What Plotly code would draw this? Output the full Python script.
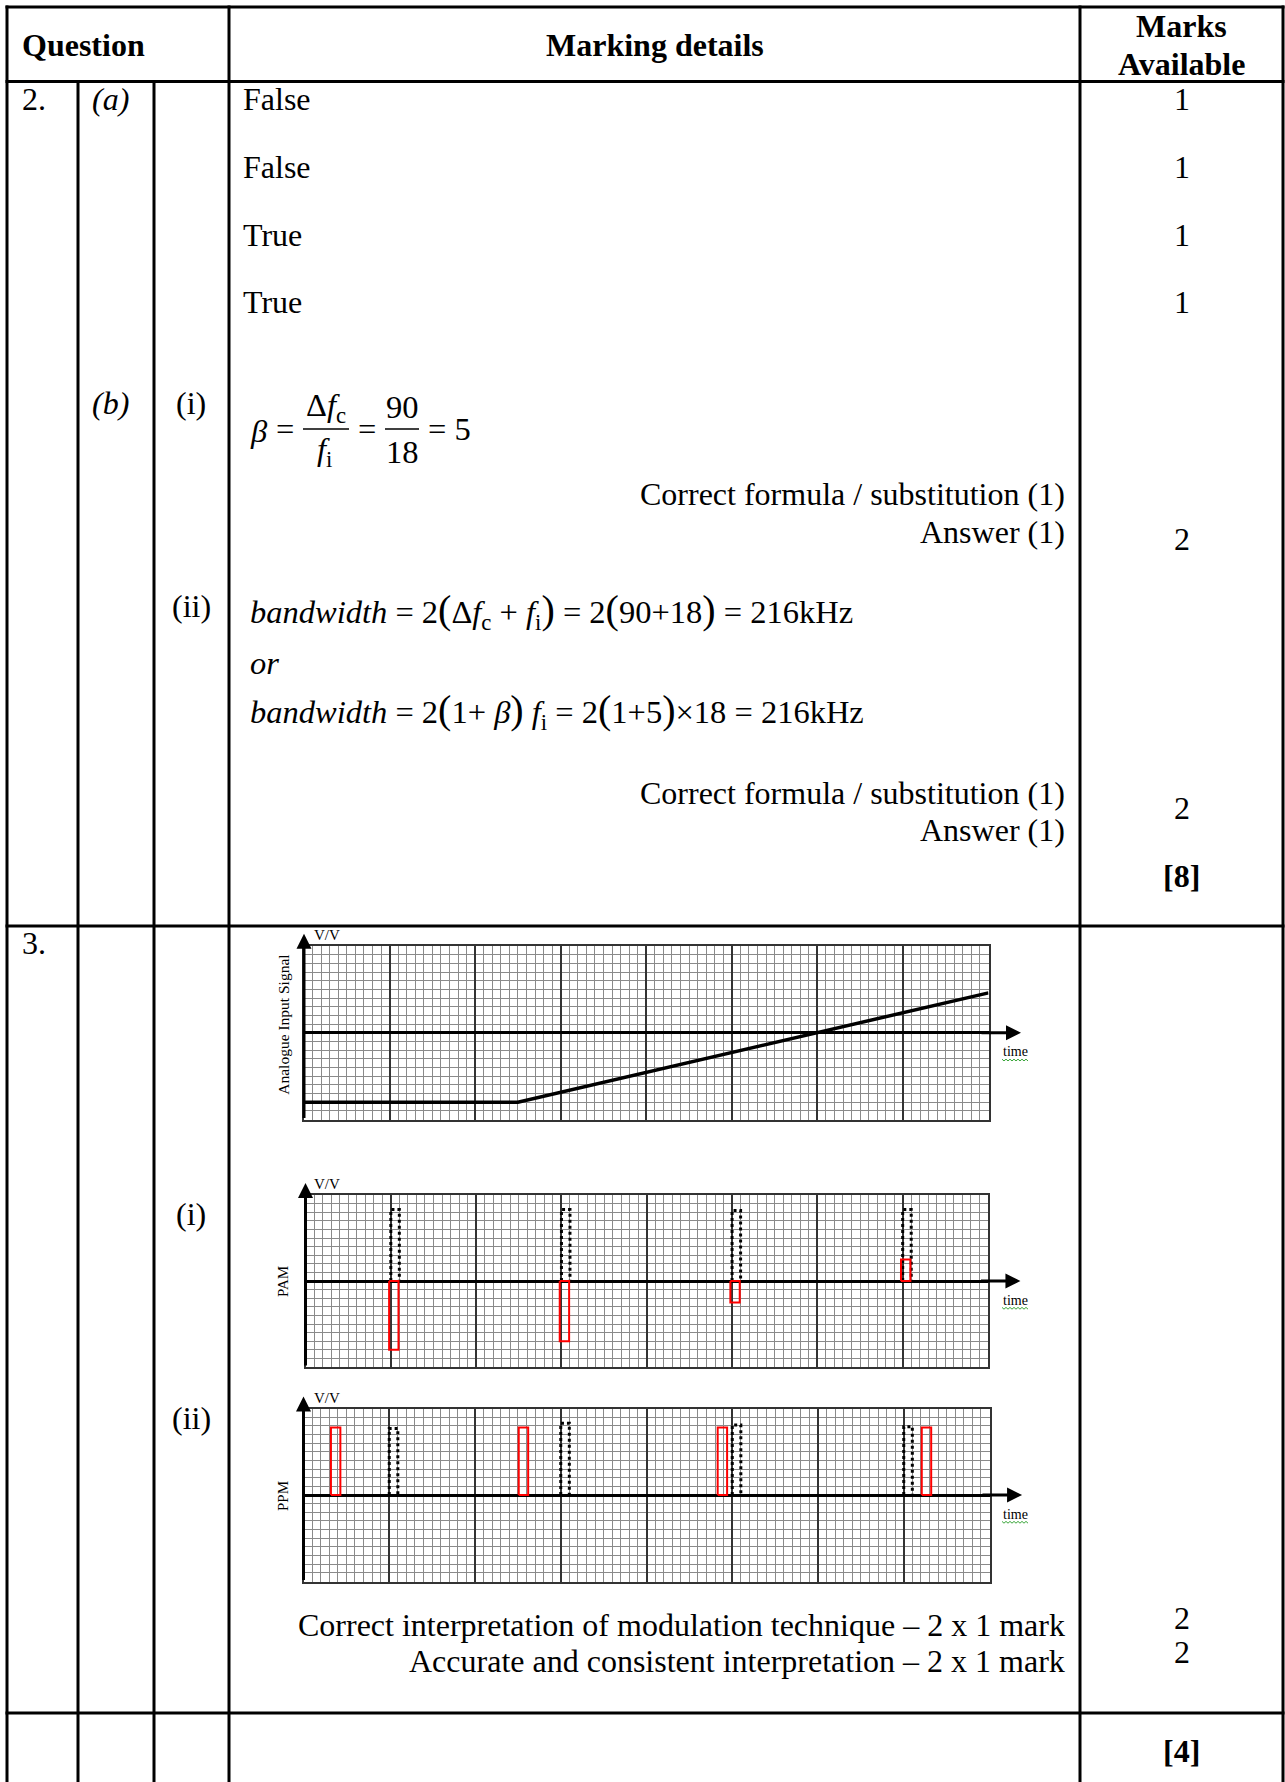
import plotly.graph_objects as go

W, H = 1285, 1782


def px(x):
    return x / W


def py(y):
    return 1 - y / H


# ---------------- data ----------------
part_a_answers = ["False", "False", "True", "True"]
part_a_marks = ["1", "1", "1", "1"]
part_b_marks = ["2", "2"]
q2_total = "[8]"
q3_marks = ["2", "2"]
q3_total = "[4]"
q3_criteria = [
    "Correct interpretation of modulation technique \u2013 2 x 1 mark",
    "Accurate and consistent interpretation \u2013 2 x 1 mark",
]
criteria_b = ["Correct formula / substitution (1)", "Answer (1)"]

# analogue input signal (time in major divisions, volts in minor divisions)
signal_t = [0, 2.5, 8]
signal_v = [-8, -8, 4.6]

# sampling instants
sample_t = [1, 3, 5, 7]
# PAM sample heights (red) and the dotted clock pulses
pam_v = [-8, -7, -2.5, 2.5]
pam_ref_h = [8.3, 8.3, 8.2, 8.3]
# PPM pulse start times (red), their heights and the dotted clock pulses
ppm_start = [0.32, 2.51, 4.83, 7.21]
ppm_h = [7.8, 7.8, 7.8, 7.8]
ppm_ref_h = [7.7, 8.3, 8.1, 7.9]

# ---------------- style constants ----------------
FONT = "Liberation Serif"
TXT = 32
FORM = 32.5
LINE_W = 3
PULSE_W = 0.11

fig = go.Figure()
shapes = []
ann = []


def text(x, y, s, anchor="left", size=TXT, **kw):
    ann.append(dict(x=px(x), y=py(y), xref="paper", yref="paper", text=s,
                    showarrow=False, xanchor=anchor, yanchor="middle",
                    font=dict(family=FONT, size=size, color="black"), **kw))


def hline(x0, x1, y, w=LINE_W):
    shapes.append(dict(type="line", xref="paper", yref="paper", x0=px(x0), x1=px(x1),
                       y0=py(y), y1=py(y), line=dict(color="black", width=w)))


def vline(x, y0, y1, w=LINE_W):
    shapes.append(dict(type="line", xref="paper", yref="paper", x0=px(x), x1=px(x),
                       y0=py(y0), y1=py(y1), line=dict(color="black", width=w)))


# ---------------- table frame ----------------
L, C1, C2, C3, C4, R = 7, 78, 154, 229, 1080, 1283
TOP, HDR, SEC, LAST, BOT = 7, 81.5, 926, 1713, 1782
for y in (TOP, HDR, SEC, LAST):
    hline(L - 1.5, R + 1.5, y)
for x in (L, C3, C4, R):
    vline(x, TOP - 1.5, BOT)
for x in (C1, C2):
    vline(x, HDR, BOT)

MX = (C4 + R) / 2
RX = 1067

# header
text(20, 45, "<b>Question</b>")
text((C3 + C4) / 2, 45, "<b>Marking details</b>", anchor="center")
text(MX, 26, "<b>Marks</b>", anchor="center")
text(MX, 64, "<b>Available</b>", anchor="center")

# question 2
text(20, 99, "2.")
text(90, 99, "<i>(a)</i>")
for yy, a, m in zip([99, 167, 235, 302], part_a_answers, part_a_marks):
    text(241, yy, a)
    text(MX, yy, m, anchor="center")

text(90, 403, "<i>(b)</i>")
text(174, 403, "(i)")

# beta = delta f_c / f_i = 90/18 = 5
text(248, 431, "<i>\u03b2</i>", size=FORM)
text(274, 429, "=", size=FORM)
text(326, 407, "\u0394<i>f</i><sub>c</sub>", anchor="center", size=FORM)
text(324, 452, "<i>f</i><sub>i</sub>", anchor="center", size=FORM)
hline(303, 349, 429, w=1.5)
text(356, 429, "=", size=FORM)
text(402, 407, "90", anchor="center", size=FORM)
text(402, 452, "18", anchor="center", size=FORM)
hline(385, 419, 429, w=1.5)
text(426, 429, "= 5", size=FORM)

text(RX, 494, criteria_b[0], anchor="right")
text(RX, 532, criteria_b[1], anchor="right")
text(MX, 539, part_b_marks[0], anchor="center")

text(170, 606, "(ii)")
P = '<span style="font-size:40px">%s</span>'
eq1 = ("<i>bandwidth</i> = 2" + P % "(" + "\u0394<i>f</i><sub>c</sub> + <i>f</i><sub>i</sub>"
       + P % ")" + " = 2" + P % "(" + "90+18" + P % ")" + " = 216kHz")
eq2 = ("<i>bandwidth</i> = 2" + P % "(" + "1+ <i>\u03b2</i>" + P % ")" + " <i>f</i><sub>i</sub> = 2"
       + P % "(" + "1+5" + P % ")" + "\u00d718 = 216kHz")
text(248, 611, eq1, size=FORM)
text(248, 663, "<i>or</i>", size=FORM)
text(248, 711, eq2, size=FORM)

text(RX, 793, criteria_b[0], anchor="right")
text(RX, 830, criteria_b[1], anchor="right")
text(MX, 808, part_b_marks[1], anchor="center")
text(MX, 876, "<b>%s</b>" % q2_total, anchor="center")

# question 3
text(20, 943, "3.")
text(174, 1214, "(i)")
text(170, 1418, "(ii)")
text(RX, 1625, q3_criteria[0], anchor="right")
text(RX, 1661, q3_criteria[1], anchor="right")
text(MX, 1618, q3_marks[0], anchor="center")
text(MX, 1652, q3_marks[1], anchor="center")
text(MX, 1751, "<b>%s</b>" % q3_total, anchor="center")

# ---------------- the three graph-paper charts ----------------
charts = [
    dict(x0=304, x1=988.5, y0=946, y1=1119.5, label="Analogue Input Signal", lx=284, ls=15.5),
    dict(x0=305.5, x1=988, y0=1195, y1=1367, label="PAM", lx=283, ls=15),
    dict(x0=303.5, x1=989.5, y0=1408.5, y1=1581.5, label="PPM", lx=283, ls=15),
]
MINOR = "#8a8a8a"
MAJOR = "#333333"
layout_axes = {}
for i, c in enumerate(charts):
    sfx = "" if i == 0 else str(i + 1)
    layout_axes["xaxis" + sfx] = dict(
        domain=[px(c["x0"]), px(c["x1"])], range=[0, 8], anchor="y" + sfx,
        showticklabels=False, ticks="", tick0=0, dtick=1,
        showgrid=True, gridcolor=MAJOR, gridwidth=2,
        minor=dict(tick0=0, dtick=0.1, showgrid=True, gridcolor=MINOR, gridwidth=1, ticks=""),
        zeroline=False, showline=True, mirror=True, linecolor=MAJOR, linewidth=2,
        fixedrange=True)
    layout_axes["yaxis" + sfx] = dict(
        domain=[py(c["y1"]), py(c["y0"])], range=[-10, 10], anchor="x" + sfx,
        showticklabels=False, ticks="", tick0=0, dtick=10, showgrid=False,
        minor=dict(tick0=0, dtick=1, showgrid=True, gridcolor=MINOR, gridwidth=1, ticks=""),
        zeroline=True, zerolinecolor="black", zerolinewidth=3,
        showline=True, mirror=True, linecolor=MAJOR, linewidth=2, fixedrange=True)
    xr, yr = "x" + sfx, "y" + sfx
    # vertical axis arrow
    ann.append(dict(x=0, y=11.4, ax=0, ay=-10, xref=xr, yref=yr, axref=xr, ayref=yr,
                    text="", showarrow=True, arrowhead=2, arrowsize=1, arrowwidth=3,
                    arrowcolor="black", standoff=0, startstandoff=0))
    # horizontal (time) axis arrow
    ann.append(dict(x=8.38, y=0, ax=7.9, ay=0, xref=xr, yref=yr, axref=xr, ayref=yr,
                    text="", showarrow=True, arrowhead=2, arrowsize=1, arrowwidth=3,
                    arrowcolor="black", standoff=0, startstandoff=0))
    axis_y = (c["y0"] + c["y1"]) / 2
    text(312, c["y0"] - 11, "V/V", size=15)
    text(1015, axis_y + 19, "time", anchor="center", size=14)
    # spell-check squiggle under "time"
    sq_y = axis_y + 27
    pts = []
    for k in range(14):
        pts.append("%s%.5f,%.5f" % ("M" if k == 0 else "L", px(1002 + 2 * k),
                                     py(sq_y + (1.2 if k % 2 else -0.6))))
    shapes.append(dict(type="path", xref="paper", yref="paper", path=" ".join(pts),
                       line=dict(color="#3aa63a", width=1)))
    ann.append(dict(x=px(c["lx"]), y=py(axis_y - 8 if i == 0 else axis_y + 1), xref="paper",
                    yref="paper", text=c["label"], textangle=-90, showarrow=False,
                    xanchor="center", yanchor="middle",
                    font=dict(family=FONT, size=c["ls"], color="black")))

# analogue input
fig.add_trace(go.Scatter(x=signal_t, y=signal_v, xaxis="x", yaxis="y", mode="lines",
                         line=dict(color="black", width=3.5), hoverinfo="skip"))


def pulses(starts, heights, w):
    xs, ys = [], []
    for s, h in zip(starts, heights):
        xs += [s, s, s + w, s + w, s, None]
        ys += [0, h, h, 0, 0, None]
    return xs, ys


def open_pulses(starts, heights, w):
    xs, ys = [], []
    for s, h in zip(starts, heights):
        xs += [s, s, s + w, s + w, None]
        ys += [0, h, h, 0, None]
    return xs, ys


# PAM
dx, dy = open_pulses(sample_t, pam_ref_h, 0.1)
fig.add_trace(go.Scatter(x=dx, y=dy, xaxis="x2", yaxis="y2", mode="lines",
                         line=dict(color="black", width=3, dash="dot"), hoverinfo="skip"))
rx, ry = pulses([t - 0.02 for t in sample_t], pam_v, PULSE_W)
fig.add_trace(go.Scatter(x=rx, y=ry, xaxis="x2", yaxis="y2", mode="lines",
                         line=dict(color="#ff0000", width=2), hoverinfo="skip"))

# PPM
dx, dy = open_pulses(sample_t, ppm_ref_h, 0.1)
fig.add_trace(go.Scatter(x=dx, y=dy, xaxis="x3", yaxis="y3", mode="lines",
                         line=dict(color="black", width=3, dash="dot"), hoverinfo="skip"))
rx, ry = pulses(ppm_start, ppm_h, PULSE_W)
fig.add_trace(go.Scatter(x=rx, y=ry, xaxis="x3", yaxis="y3", mode="lines",
                         line=dict(color="#ff0000", width=2), hoverinfo="skip"))

fig.update_layout(
    width=W, height=H, margin=dict(l=0, r=0, t=0, b=0),
    paper_bgcolor="white", plot_bgcolor="white", showlegend=False,
    shapes=shapes, annotations=ann, **layout_axes)

fig.write_html("out.html", config={"displayModeBar": False, "staticPlot": True},
               post_script="document.body.style.margin='0';document.body.style.overflow='hidden';")
